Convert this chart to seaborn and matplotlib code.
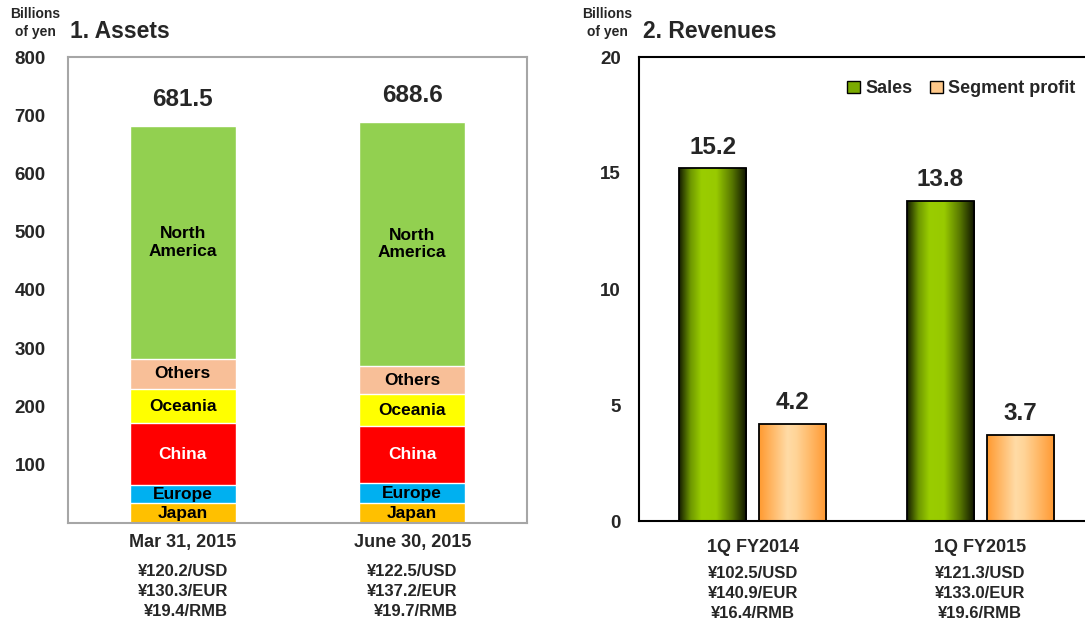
import numpy as np
import pandas as pd
import matplotlib
matplotlib.use("Agg")
import matplotlib.pyplot as plt
import seaborn as sns
from matplotlib import font_manager
from matplotlib.colors import LinearSegmentedColormap
from matplotlib.patches import Patch
from matplotlib.transforms import blended_transform_factory

# ---------------- data ----------------
dates = ["Mar 31, 2015", "June 30, 2015"]
asset_rates = ["¥120.2/USD\n¥130.3/EUR\n¥19.4/RMB", "¥122.5/USD\n¥137.2/EUR\n¥19.7/RMB"]
regions = ["Japan", "Europe", "China", "Oceania", "Others", "North\nAmerica"]
japan = [34.0, 34.0]
europe = [31.0, 35.0]
china = [106.0, 97.0]
oceania = [59.0, 55.0]
others = [52.0, 48.0]
north_america = [399.5, 419.6]
asset_totals = [681.5, 688.6]

periods = ["1Q FY2014", "1Q FY2015"]
revenue_rates = ["¥102.5/USD\n¥140.9/EUR\n¥16.4/RMB", "¥121.3/USD\n¥133.0/EUR\n¥19.6/RMB"]
series_names = ["Sales", "Segment profit"]
sales = [15.2, 13.8]
segment_profit = [4.2, 3.7]

# ---------------- style ----------------
sns.set_style("white")
avail = {f.name for f in font_manager.fontManager.ttflist}
main_font = "Liberation Sans Narrow" if "Liberation Sans Narrow" in avail else "Liberation Sans"
plt.rcParams["font.family"] = [main_font, "Liberation Sans", "DejaVu Sans"]
plt.rcParams["font.weight"] = "bold"

region_colors = ["#ffc000", "#00b0f0", "#ff0000", "#ffff00", "#f8bf98", "#92d050"]
region_text = ["black", "black", "white", "black", "black", "black"]

fig = plt.figure(figsize=(10.85, 6.25), dpi=100)
W, H = 1085, 625

# ---------------- left: assets ----------------
ax1 = fig.add_axes([68 / W, 1 - 523 / H, 459 / W, 466 / H])
layers = [japan, europe, china, oceania, others, north_america]
cums = np.cumsum(np.array(layers), axis=0)
for i in range(len(layers) - 1, -1, -1):
    sns.barplot(x=dates, y=cums[i], color=region_colors[i], width=0.46,
                edgecolor="white", linewidth=1.0, saturation=1, ax=ax1, zorder=2)
for j in range(len(dates)):
    for i, name in enumerate(regions):
        bottom = cums[i - 1][j] if i > 0 else 0.0
        mid = bottom + layers[i][j] / 2
        ax1.text(j, mid, name, ha="center", va="center", fontsize=12.5,
                 fontweight="bold", color=region_text[i], zorder=5, linespacing=1.2)
    ax1.annotate(f"{asset_totals[j]:.1f}", (j, asset_totals[j]), xytext=(0, 11),
                 textcoords="offset points", ha="center", va="bottom",
                 fontsize=17.5, fontweight="bold")
ax1.set_xlim(-0.5, 1.5)
ax1.set_ylim(0, 800)
ax1.set_yticks(range(100, 900, 100))
ax1.tick_params(axis="y", direction="in", length=5, color="#a6a6a6", width=1,
                pad=16, labelsize=13.5)
ax1.tick_params(axis="x", length=0, pad=8, labelsize=13)
for lab in ax1.get_xticklabels() + ax1.get_yticklabels():
    lab.set_fontweight("bold")
for s in ax1.spines.values():
    s.set_visible(True)
    s.set_color("#a6a6a6")
    s.set_linewidth(1.5)
ax1.set_xlabel("")
ax1.set_ylabel("")
tr1 = blended_transform_factory(ax1.transData, ax1.transAxes)
for j, txt in enumerate(asset_rates):
    ax1.text(j, -0.088, txt, transform=tr1, ha="center", va="top", fontsize=12,
             fontweight="bold", linespacing=1.4, multialignment="right")

# ---------------- right: revenues ----------------
ax2 = fig.add_axes([639 / W, 1 - 521 / H, 446 / W, 464 / H])
df = pd.DataFrame({
    "period": periods * 2,
    "series": [series_names[0]] * 2 + [series_names[1]] * 2,
    "value": sales + segment_profit,
})
sns.barplot(data=df, x="period", y="value", hue="series", hue_order=series_names,
            palette=["#7aaa00", "#ffc98a"], width=0.704, gap=0.16, saturation=1,
            edgecolor="black", linewidth=1.3, legend=False, ax=ax2, zorder=2)

grad_sales = LinearSegmentedColormap.from_list("gs", [
    (0.0, "#141c00"), (0.17, "#6e9800"), (0.33, "#9acd00"), (0.55, "#98ca00"),
    (0.78, "#587800"), (1.0, "#0c1000")])
grad_profit = LinearSegmentedColormap.from_list("gp", [
    (0.0, "#ff9a30"), (0.42, "#ffdba6"), (0.55, "#ffd497"), (1.0, "#ff9830")])
grads = [grad_sales, grad_profit]
g = np.linspace(0, 1, 256)[np.newaxis, :]
for k, cont in enumerate(ax2.containers):
    for bar in cont:
        x0, y0, w, h = bar.get_x(), bar.get_y(), bar.get_width(), bar.get_height()
        im = ax2.imshow(g, cmap=grads[k], extent=[x0, x0 + w, y0, y0 + h],
                        aspect="auto", interpolation="bicubic", zorder=2.5)
        im.set_clip_path(bar)
        bar.set_facecolor("none")
        bar.set_zorder(3)
        ax2.annotate(f"{h:.1f}", (x0 + w / 2, y0 + h), xytext=(0, 7),
                     textcoords="offset points", ha="center", va="bottom",
                     fontsize=17.5, fontweight="bold")

ax2.set_xlim(-0.5, 1.46)
ax2.set_ylim(0, 20)
ax2.set_yticks([0, 5, 10, 15, 20])
ax2.tick_params(axis="y", direction="in", length=5, color="#c8c8c8", width=1,
                pad=13, labelsize=13.5)
ax2.set_xticks([0, 1])
ax2.set_xticklabels(periods)
ax2.tick_params(axis="x", length=0, pad=13, labelsize=13)
ax2.set_xticks([0.5], minor=True)
ax2.tick_params(axis="x", which="minor", direction="in", length=5, color="#c8c8c8")
for lab in ax2.get_xticklabels() + ax2.get_yticklabels():
    lab.set_fontweight("bold")
for name, s in ax2.spines.items():
    s.set_color("black")
    s.set_linewidth(1.5)
    s.set_visible(name != "right")
ax2.set_xlabel("")
ax2.set_ylabel("")
tr2 = blended_transform_factory(ax2.transData, ax2.transAxes)
for j, txt in enumerate(revenue_rates):
    ax2.text(j, -0.097, txt, transform=tr2, ha="center", va="top", fontsize=12,
             fontweight="bold", linespacing=1.4, multialignment="center")

handles = [Patch(facecolor="#7aaa00", edgecolor="black", label=series_names[0]),
           Patch(facecolor="#ffc98a", edgecolor="black", label=series_names[1])]
leg = ax2.legend(handles=handles, loc="upper right", bbox_to_anchor=(1.015, 0.985),
                 ncol=2, frameon=False, fontsize=13, handlelength=0.7,
                 handleheight=0.7, handletextpad=0.3, columnspacing=1.0)
for t in leg.get_texts():
    t.set_fontweight("bold")

# ---------------- titles ----------------
for xl, xt, title in [(35, 70, "1. Assets"), (607, 643, "2. Revenues")]:
    fig.text(xl / W, 1 - 23 / H, "Billions\nof yen", ha="center", va="center",
             fontsize=10, fontweight="bold", linespacing=1.35)
    fig.text(xt / W, 1 - 31 / H, title, ha="left", va="center",
             fontsize=16.5, fontweight="bold")

fig.savefig("out.png", dpi=100)
